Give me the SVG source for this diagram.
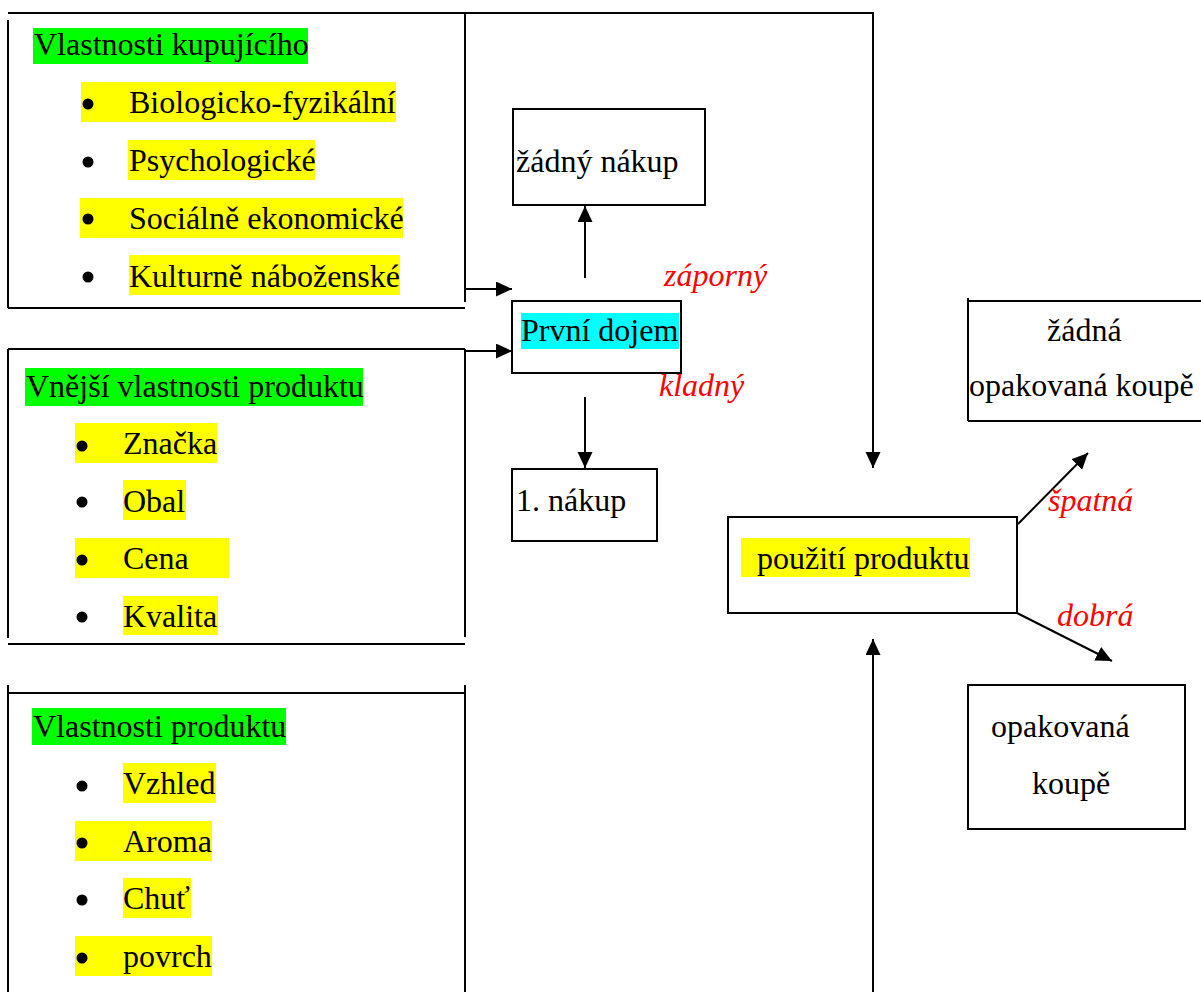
<svg xmlns="http://www.w3.org/2000/svg" width="1201" height="992" viewBox="0 0 1201 992">
<style>
text{font-family:"Liberation Serif","Times New Roman",serif;font-size:32px;fill:#000}
.red{fill:#ff0000;font-style:italic}
.ln{stroke:#000;stroke-width:2;fill:none}
.box{stroke:#000;stroke-width:2;fill:#fff}
.hg{fill:#00ff00}
.hy{fill:#ffff00}
.hc{fill:#00ffff}
.bul{fill:#000}
</style>
<defs>
<marker id="ah" markerUnits="userSpaceOnUse" markerWidth="17" markerHeight="16" refX="16" refY="7.5" orient="auto">
<path d="M0,0 L16,7.5 L0,15 Z" fill="#000"/>
</marker>
</defs>
<rect width="1201" height="992" fill="#fff"/>

<g id="box-kupujici">
<path class="ln" d="M8,13 H465 M8,20 V308 M465,13 V302 M8,308 H465"/>
<rect class="hg" x="33" y="28" width="275" height="36"/>
<text x="34" y="55">Vlastnosti kupujícího</text>
<rect class="hy" x="81" y="82" width="315" height="40"/>
<circle class="bul" cx="88" cy="104" r="5.5"/>
<text x="129" y="113">Biologicko-fyzikální</text>
<rect class="hy" x="128" y="140" width="187" height="40"/>
<circle class="bul" cx="88" cy="162" r="5.5"/>
<text x="129" y="171">Psychologické</text>
<rect class="hy" x="80" y="198" width="323" height="40"/>
<circle class="bul" cx="88" cy="219" r="5.5"/>
<text x="129" y="229">Sociálně ekonomické</text>
<rect class="hy" x="129" y="255" width="271" height="40"/>
<circle class="bul" cx="88" cy="277" r="5.5"/>
<text x="129" y="287">Kulturně náboženské</text>
</g>

<g id="box-vnejsi">
<path class="ln" d="M8,349 H465 M8,349 V638 M465,349 V637 M8,644 H465"/>
<rect class="hg" x="25" y="368" width="338" height="38"/>
<text x="26" y="397">Vnější vlastnosti produktu</text>
<rect class="hy" x="75" y="423" width="142" height="40"/>
<circle class="bul" cx="82" cy="446" r="5.5"/>
<text x="123" y="454">Značka</text>
<rect class="hy" x="123" y="480" width="63" height="40"/>
<circle class="bul" cx="82" cy="502" r="5.5"/>
<text x="123" y="512">Obal</text>
<rect class="hy" x="75" y="538" width="154" height="40"/>
<circle class="bul" cx="82" cy="560" r="5.5"/>
<text x="123" y="569">Cena</text>
<rect class="hy" x="123" y="596" width="95" height="39"/>
<circle class="bul" cx="82" cy="617" r="5.5"/>
<text x="123" y="627">Kvalita</text>
</g>

<g id="box-produkt">
<path class="ln" d="M8,693 H465 M8,685 V992 M465,685 V992"/>
<rect class="hg" x="32" y="708" width="254" height="37"/>
<text x="33" y="737">Vlastnosti produktu</text>
<rect class="hy" x="123" y="763" width="93" height="40"/>
<circle class="bul" cx="82" cy="786" r="5.5"/>
<text x="123" y="794">Vzhled</text>
<rect class="hy" x="75" y="821" width="137" height="40"/>
<circle class="bul" cx="82" cy="843" r="5.5"/>
<text x="123" y="852">Aroma</text>
<rect class="hy" x="123" y="878" width="68" height="40"/>
<circle class="bul" cx="82" cy="900" r="5.5"/>
<text x="123" y="909">Chuť</text>
<rect class="hy" x="75" y="936" width="137" height="40"/>
<circle class="bul" cx="82" cy="958" r="5.5"/>
<text x="123" y="967">povrch</text>
</g>

<g id="zadny-nakup">
<rect class="box" x="513" y="109" width="192" height="96"/>
<text x="516" y="172">žádný nákup</text>
</g>

<g id="prvni-dojem">
<rect class="box" x="512" y="301" width="169" height="72"/>
<rect class="hc" x="521" y="313" width="158" height="36"/>
<text x="521" y="341">První dojem</text>
</g>

<g id="prvni-nakup">
<rect class="box" x="512" y="469" width="145" height="72"/>
<text x="516" y="511">1. nákup</text>
</g>

<g id="pouziti">
<rect class="box" x="728" y="517" width="289" height="96"/>
<rect class="hy" x="741" y="538" width="229" height="39"/>
<text x="757" y="569">použití produktu</text>
</g>

<g id="zadna-opakovana">
<path class="ln" d="M968,298 V421 M968,301 H1203 M968,421 H1203"/>
<text x="1047" y="341">žádná</text>
<text x="969" y="396">opakovaná koupě</text>
</g>

<g id="opakovana">
<rect class="box" x="968" y="685" width="217" height="144"/>
<text x="991" y="737">opakovaná</text>
<text x="1032" y="794">koupě</text>
</g>

<g id="connectors">
<path class="ln" d="M465,13 H873 V468" marker-end="url(#ah)"/>
<path class="ln" d="M465,289 H512" marker-end="url(#ah)"/>
<path class="ln" d="M465,351 H512" marker-end="url(#ah)"/>
<path class="ln" d="M585,278 V206" marker-end="url(#ah)"/>
<path class="ln" d="M585,397 V468" marker-end="url(#ah)"/>
<path class="ln" d="M873,992 V639" marker-end="url(#ah)"/>
<path class="ln" d="M1018,524 L1088,453" marker-end="url(#ah)"/>
<path class="ln" d="M1017,613 L1112,661" marker-end="url(#ah)"/>
</g>

<g id="labels">
<text class="red" x="664" y="286">záporný</text>
<text class="red" x="659" y="396">kladný</text>
<text class="red" x="1048" y="511">špatná</text>
<text class="red" x="1057" y="626">dobrá</text>
</g>
</svg>
